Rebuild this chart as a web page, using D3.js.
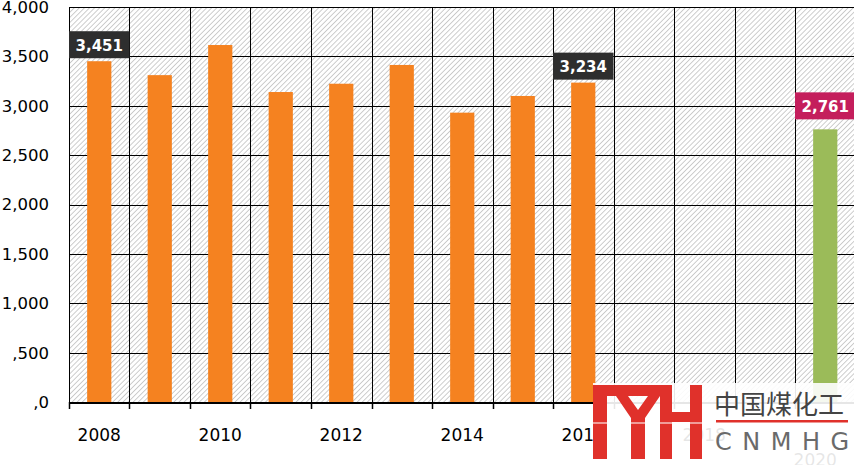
<!DOCTYPE html>
<html>
<head>
<meta charset="utf-8">
<script src="https://cdn.jsdelivr.net/npm/d3@7"></script>
<style>
  body { margin:0; background:#fff; }
  svg { display:block; font-family:"DejaVu Sans", Verdana, sans-serif; }
</style>
</head>
<body>
<div id="plot"></div>
<script>
// data
var years = ['2008','2009','2010','2011','2012','2013','2014','2015','2016','2017','2018','2019','2020'];
var values = [3451, 3310, 3615, 3139, 3223, 3413, 2930, 3099, 3234, null, null, null, 2761];
var yTicks = [0, 500, 1000, 1500, 2000, 2500, 3000, 3500, 4000];
var yTickLabels = [',0', ',500', '1,000', '1,500', '2,000', '2,500', '3,000', '3,500', '4,000'];
var xLabels = ['2008','2010','2012','2014','2016','2018','2020'];
var callouts = ['2008','2016','2020'];
var highlight = '2020';

var W = 854, H = 465;
var pLeft = 69, pRight = 855.5, pTop = 7, pBottom = 402;

var svg = d3.select('#plot').append('svg')
  .attr('width', W).attr('height', H);

// hatch background
var defs = svg.append('defs');
var pat = defs.append('pattern')
  .attr('id','hatch')
  .attr('patternUnits','userSpaceOnUse')
  .attr('width',3.6).attr('height',3.6)
  .attr('patternTransform','rotate(45)');
pat.append('rect').attr('width',3.6).attr('height',3.6).attr('fill','#fff');
pat.append('line').attr('x1',0).attr('y1',0).attr('x2',0).attr('y2',3.6)
  .attr('stroke','#bdbdbd').attr('stroke-width',1.5);

var x = d3.scaleBand().domain(years).range([pLeft, pRight])
  .paddingInner(0.6).paddingOuter(0.3);
var y = d3.scaleLinear().domain([0, 4000]).range([pBottom, pTop]);
var step = x.step();
var bounds = years.map(function(d){ return x(d) - step*0.3; }).concat([pRight]);

svg.append('rect')
  .attr('x', pLeft).attr('y', pTop)
  .attr('width', pRight-pLeft).attr('height', pBottom-pTop)
  .attr('fill','url(#hatch)');

// grid
svg.append('g').selectAll('line').data(yTicks).enter().append('line')
  .attr('x1', pLeft).attr('x2', pRight)
  .attr('y1', function(d){ return Math.round(y(d))+0.5; }).attr('y2', function(d){ return Math.round(y(d))+0.5; })
  .attr('stroke','#000').attr('stroke-width',1);
svg.append('g').selectAll('line').data(bounds).enter().append('line')
  .attr('x1', function(d){ return Math.round(d)+0.5; }).attr('x2', function(d){ return Math.round(d)+0.5; })
  .attr('y1', pTop).attr('y2', pBottom)
  .attr('stroke','#000').attr('stroke-width',1);

// bars
var data = years.map(function(d,i){ return {year:d, value:values[i]}; })
  .filter(function(d){ return d.value != null; });

svg.append('g').selectAll('rect').data(data).enter().append('rect')
  .attr('x', function(d){ return x(d.year); })
  .attr('width', x.bandwidth())
  .attr('y', function(d){ return y(d.value); })
  .attr('height', function(d){ return pBottom - y(d.value); })
  .attr('fill', function(d){ return d.year == highlight ? '#9bbb59' : '#f58220'; });

// x axis line + ticks
svg.append('line').attr('x1', pLeft).attr('x2', pRight)
  .attr('y1', pBottom+1).attr('y2', pBottom+1)
  .attr('stroke','#000').attr('stroke-width',2);
svg.append('g').selectAll('line').data(bounds).enter().append('line')
  .attr('x1', function(d){ return Math.round(d)+0.5; }).attr('x2', function(d){ return Math.round(d)+0.5; })
  .attr('y1', pBottom).attr('y2', pBottom+7)
  .attr('stroke','#000').attr('stroke-width',1.5);

// y labels
svg.append('g').selectAll('text').data(yTicks).enter().append('text')
  .attr('x', 49).attr('y', function(d){ return y(d); })
  .attr('dy','0.36em')
  .attr('text-anchor','end')
  .attr('font-size',16.5)
  .attr('fill','#000')
  .text(function(d,i){ return yTickLabels[i]; });

// x labels
svg.append('g').selectAll('text').data(xLabels).enter().append('text')
  .attr('x', function(d){ return x(d) + x.bandwidth()/2 + (d == highlight ? -10 : 0); })
  .attr('y', function(d){ return d == highlight ? 466 : 441; })
  .attr('text-anchor','middle')
  .attr('font-size',17)
  .attr('fill','#000')
  .text(function(d){ return d; });

// callout boxes
var boxes = svg.append('g').selectAll('g').data(data.filter(function(d){ return callouts.indexOf(d.year) >= 0; }))
  .enter().append('g')
  .attr('transform', function(d){
    var off = d.year == highlight ? 10 : 3;
    return 'translate(' + (x(d.year) - step*0.3) + ',' + (y(d.value) - off - 27) + ')';
  });
boxes.append('rect')
  .attr('width', step).attr('height', 27)
  .attr('fill', function(d){ return d.year == highlight ? '#c41e5c' : '#2e2e2e'; });
boxes.append('text')
  .attr('x', step/2).attr('y', 19.5)
  .attr('text-anchor','middle')
  .attr('font-size',15).attr('font-weight','bold')
  .attr('fill','#fff')
  .text(function(d){ return d3.format(',')(d.value); });

// watermark
var wm = svg.append('g');
wm.append('rect').attr('x',593).attr('y',383).attr('width',261).attr('height',82)
  .attr('fill','#fff').attr('opacity',0.9);
var red = '#e0312b';
var logo = wm.append('g').attr('fill', red);
logo.append('rect').attr('x',593).attr('y',385).attr('width',14).attr('height',74);
logo.append('rect').attr('x',593).attr('y',385).attr('width',79).attr('height',11);
logo.append('path').attr('d','M616,396 L628,396 L638,410 L648,396 L660,396 L645,418 L645,459 L631,459 L631,418 Z');
logo.append('rect').attr('x',660).attr('y',385).attr('width',12).attr('height',74);
logo.append('rect').attr('x',690).attr('y',385).attr('width',12).attr('height',74);
logo.append('rect').attr('x',660).attr('y',412).attr('width',42).attr('height',10);
wm.append('line').attr('x1',593).attr('x2',705).attr('y1',423).attr('y2',423)
  .attr('stroke','#fff').attr('stroke-width',1.5).attr('opacity',0.7);
wm.append('text').attr('x',714).attr('y',414)
  .attr('font-family','"Noto Sans CJK SC", sans-serif')
  .attr('font-size',26).attr('fill','#444')
  .text('中国煤化工');
wm.append('rect').attr('x',716).attr('y',420).attr('width',132).attr('height',2.5).attr('fill',red);
wm.append('text').attr('x',715).attr('y',450)
  .attr('font-size',24).attr('fill','#6a6a6a').attr('letter-spacing',10.5)
  .text('CNMHG');
</script>
</body>
</html>
